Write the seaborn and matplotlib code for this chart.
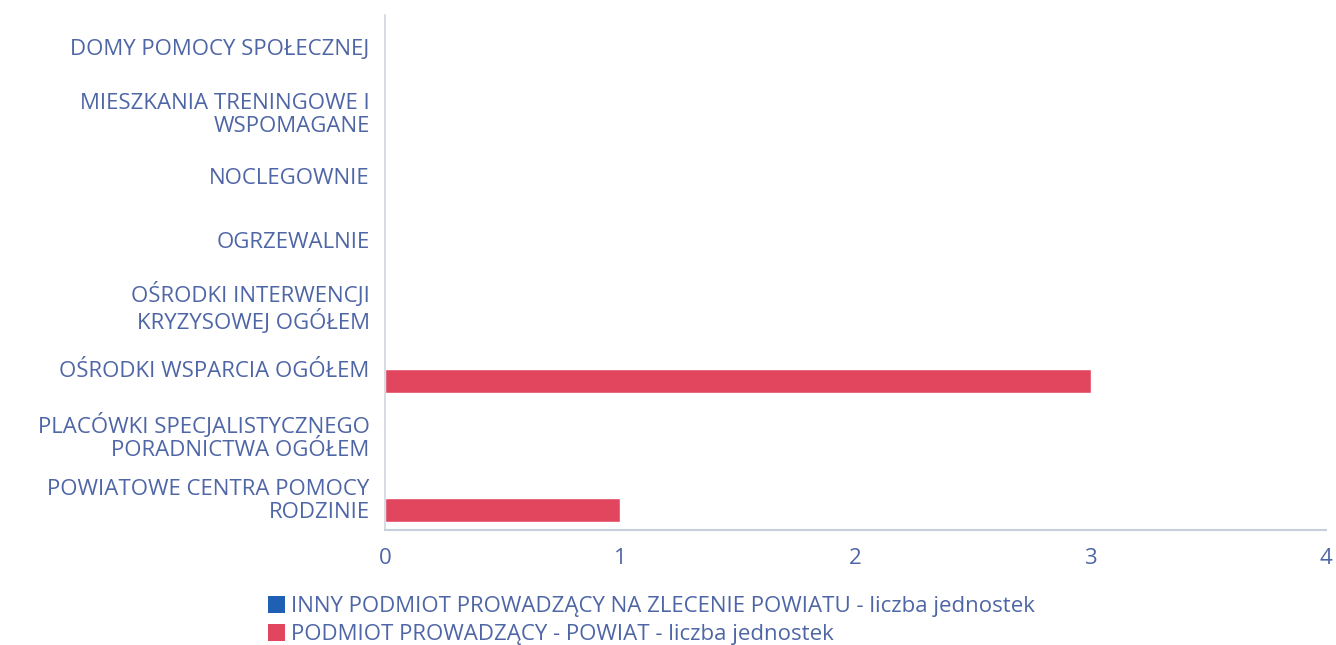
import pandas as pd
import matplotlib.pyplot as plt
import seaborn as sns
from matplotlib.patches import Patch

# --- data ---
categories = [
    "DOMY POMOCY SPOŁECZNEJ",
    "MIESZKANIA TRENINGOWE I WSPOMAGANE",
    "NOCLEGOWNIE",
    "OGRZEWALNIE",
    "OŚRODKI INTERWENCJI KRYZYSOWEJ OGÓŁEM",
    "OŚRODKI WSPARCIA OGÓŁEM",
    "PLACÓWKI SPECJALISTYCZNEGO PORADNICTWA OGÓŁEM",
    "POWIATOWE CENTRA POMOCY RODZINIE",
]
tick_labels = [
    "DOMY POMOCY SPOŁECZNEJ",
    "MIESZKANIA TRENINGOWE I\nWSPOMAGANE",
    "NOCLEGOWNIE",
    "OGRZEWALNIE",
    "OŚRODKI INTERWENCJI\nKRYZYSOWEJ OGÓŁEM",
    "OŚRODKI WSPARCIA OGÓŁEM",
    "PLACÓWKI SPECJALISTYCZNEGO\nPORADNICTWA OGÓŁEM",
    "POWIATOWE CENTRA POMOCY\nRODZINIE",
]
series_names = [
    "INNY PODMIOT PROWADZĄCY NA ZLECENIE POWIATU - liczba jednostek",
    "PODMIOT PROWADZĄCY - POWIAT - liczba jednostek",
]
inny_values = [0, 0, 0, 0, 0, 0, 0, 0]
powiat_values = [0, 0, 0, 0, 0, 3, 0, 1]
x_ticks = [0, 1, 2, 3, 4]

colors = ["#1f5fb4", "#e2465f"]
text_color = "#4f66a6"

df = pd.DataFrame({
    "category": categories * 2,
    "series": [series_names[0]] * len(categories) + [series_names[1]] * len(categories),
    "value": inny_values + powiat_values,
})

sns.set_style("white")
plt.rcParams["font.family"] = ["Open Sans", "DejaVu Sans"]

fig = plt.figure(figsize=(13.36, 6.45), dpi=100)
ax = fig.add_axes([385 / 1336, 1 - 530 / 645, (1326 - 385) / 1336, (530 - 15) / 645])

sns.barplot(data=df, y="category", x="value", hue="series", order=categories,
            hue_order=series_names, palette=colors, orient="h", width=0.75,
            saturation=1, ax=ax, legend=False)

ax.set_xlim(0, 4)
ax.set_xticks(x_ticks)
ax.set_xticklabels([str(t) for t in x_ticks], color=text_color, fontsize=16)
ax.set_yticks(range(len(categories)))
ax.set_yticklabels(tick_labels, color=text_color, fontsize=16, linespacing=1.1)
ax.tick_params(axis="y", length=0, pad=11)
ax.tick_params(axis="x", length=0, pad=13)
ax.set_xlabel("")
ax.set_ylabel("")

for side in ["top", "right"]:
    ax.spines[side].set_visible(False)
ax.spines["left"].set_color("#cfd6df")
ax.spines["bottom"].set_color("#c5d0da")
ax.spines["left"].set_linewidth(1.2)
ax.spines["bottom"].set_linewidth(1.5)

handles = [Patch(facecolor=c, edgecolor="none") for c in colors]
fig.legend(handles, series_names, loc="upper left", bbox_to_anchor=(268 / 1336, 1 - 596 / 645),
           frameon=False, fontsize=16, labelcolor=text_color, handlelength=0.75,
           handleheight=0.8, handletextpad=0.3, labelspacing=0.3, borderaxespad=0,
           borderpad=0)

fig.savefig("out.png", dpi=100)
